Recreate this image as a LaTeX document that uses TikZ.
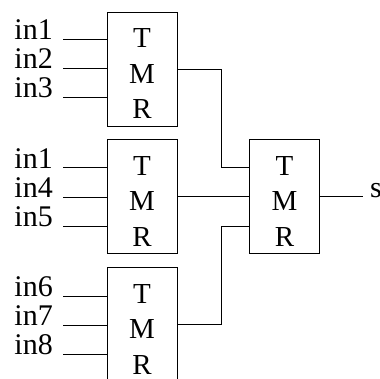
\documentclass[tikz,border=0pt]{standalone}
\usepackage{fontspec}
\setmainfont{Liberation Serif}
\newcommand{\tmrtext}{\rule{0pt}{28pt}T\\M\\R}
\begin{document}
\begin{tikzpicture}[
        x=1pt, y=-1pt,
        wire/.style={line width=1pt},
        tmr/.style={draw, line width=1pt, minimum width=70pt, minimum height=114pt,
            inner sep=0pt, align=center, font=\fontsize{29}{35.5}\selectfont},
        inlbl/.style={anchor=base east, inner sep=0pt, font=\fontsize{30}{30}\selectfont}
    ]
        \clip (0,0) rectangle (379,379);

        % TMR blocks
        \node[tmr] (b1) at (142, 69.5) {\tmrtext};
        \node[tmr] (b2) at (142, 196.5) {\tmrtext};
        \node[tmr] (b3) at (142, 324.5) {\tmrtext};
        \node[tmr] (b4) at (284.5, 196.5) {\tmrtext};

        % Input labels
        \node[inlbl] (i11) at (53, 40) {in1};
        \node[inlbl] (i12) at (53, 69) {in2};
        \node[inlbl] (i13) at (53, 98) {in3};
        \node[inlbl] (i21) at (53, 168) {in1};
        \node[inlbl] (i22) at (53, 197) {in4};
        \node[inlbl] (i23) at (53, 226) {in5};
        \node[inlbl] (i31) at (53, 296) {in6};
        \node[inlbl] (i32) at (53, 325) {in7};
        \node[inlbl] (i33) at (53, 354) {in8};

        % Inputs
        \foreach \b in {1,2,3}{
            \foreach \k in {1,2,3}{
                \draw[wire] ([xshift=10pt]i\b\k.base east) -- (i\b\k.base east -| b\b.west);
            }
        }

        % Voter
        \draw[wire] (b1.east) -- (221, 69.5) |- ([yshift=28.5pt]b4.west);
        \draw[wire] (b2.east) -- (b4.west);
        \draw[wire] (b3.east) -- (221, 324.5) |- ([yshift=-29.5pt]b4.west);

        % Output
        \node[inlbl, anchor=base west] (out) at (370, 197) {s};
        \draw[wire] (b4.east) -- (363, 196.5);
    \end{tikzpicture}
\end{document}
